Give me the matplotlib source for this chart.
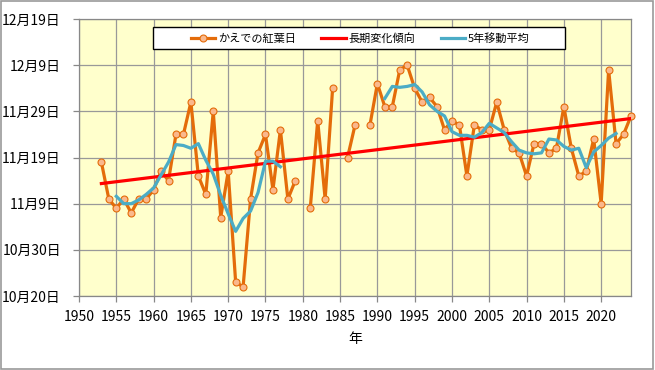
import numpy as np
import pandas as pd
import matplotlib
matplotlib.use('Agg')
import matplotlib.pyplot as plt
from matplotlib.patches import Rectangle
from matplotlib.ticker import FuncFormatter

plt.rcParams['font.family'] = ['Noto Sans CJK JP', 'DejaVu Sans']

# かえでの紅葉日 (None = 観測なし)
years = list(range(1953, 2025))
dates = ['11/18', '11/10', '11/8', '11/10', '11/7', '11/10', '11/10', '11/12', '11/16', '11/14',   # 1953-1962
         '11/24', '11/24', '12/1', '11/15', '11/11', '11/29', '11/6', '11/16', '10/23', '10/22',    # 1963-1972
         '11/10', '11/20', '11/24', '11/12', '11/25', '11/10', '11/14', None, '11/8', '11/27',       # 1973-1982
         '11/10', '12/4', None, '11/19', '11/26', None, '11/26', '12/5', '11/30', '11/30',           # 1983-1992
         '12/8', '12/9', '12/4', '12/1', '12/2', '11/30', '11/25', '11/27', '11/26', '11/15',        # 1993-2002
         '11/26', '11/25', '11/25', '12/1', '11/25', '11/21', '11/20', '11/15', '11/22', '11/22',    # 2003-2012
         '11/20', '11/21', '11/30', '11/21', '11/15', '11/16', '11/23', '11/9', '12/8', '11/22',     # 2013-2022
         '11/24', '11/28']                                                                          # 2023-2024

month_start = {10: 0, 11: 31, 12: 61}  # day number, 10/1 = 1


def to_day(s):
    if s is None:
        return np.nan
    m, d = s.split('/')
    return month_start[int(m)] + int(d)


def to_label(v, pos=None):
    v = int(round(v))
    for m in (12, 11, 10):
        if v > month_start[m]:
            return f'{m}月{v - month_start[m]}日'
    return ''


day = pd.Series([to_day(s) for s in dates], index=years)
ma5 = day.rolling(5, center=True, min_periods=5).mean()

ok = day.notna()
coef = np.polyfit(day.index[ok], day[ok], 1)
trend = np.polyval(coef, day.index)

fig = plt.figure(figsize=(6.55, 3.7), dpi=100)
ax = fig.add_axes([79 / 655, 74 / 370, 552 / 655, 277 / 370])
ax.set_facecolor('#FFFFCC')

ax.plot(day.index, day.values, color='#E46C0A', lw=2.3, marker='o', ms=5,
        mfc='#FAB88C', mec='#E46C0A', mew=0.8, label='かえでの紅葉日', zorder=3, clip_on=False)
ax.plot(day.index, trend, color='#FF0000', lw=2.3, label='長期変化傾向', zorder=4)
ax.plot(ma5.index, ma5.values, color='#4BACC6', lw=2.3, label='5年移動平均', zorder=5)

ax.set_xlim(1950, 2024)
ax.set_ylim(20, 80)
ax.set_xticks(range(1950, 2021, 5))
ax.set_yticks(range(20, 81, 10))
ax.yaxis.set_major_formatter(FuncFormatter(to_label))
ax.grid(True, color='#999999', lw=0.9)
ax.set_axisbelow(True)
for sp in ax.spines.values():
    sp.set_color('#888888')
    sp.set_linewidth(0.9)
ax.tick_params(axis='both', colors='#888888', labelcolor='black', labelsize=10, length=4, width=0.9)
ax.tick_params(axis='y', pad=9)
ax.tick_params(axis='x', pad=6)
ax.set_xlabel('年', fontsize=10, labelpad=6)

# legend box
ax.add_patch(Rectangle((73.7 / 552, 246.7 / 277), 412.3 / 552, 22 / 277, transform=ax.transAxes,
                       facecolor='white', edgecolor='black', lw=1, zorder=6, clip_on=False))
leg = ax.legend(loc='center', bbox_to_anchor=(281.3 / 552, 257.7 / 277), ncol=3, frameon=False,
                fontsize=8, handlelength=2.2, handletextpad=0.25, columnspacing=2.3,
                borderpad=0)
leg.set_zorder(7)

fig.patches.append(Rectangle((0.001, 0.002), 0.996, 0.994, transform=fig.transFigure,
                             fill=False, edgecolor='#999999', lw=1.2))

fig.savefig('out.png', dpi=100)
